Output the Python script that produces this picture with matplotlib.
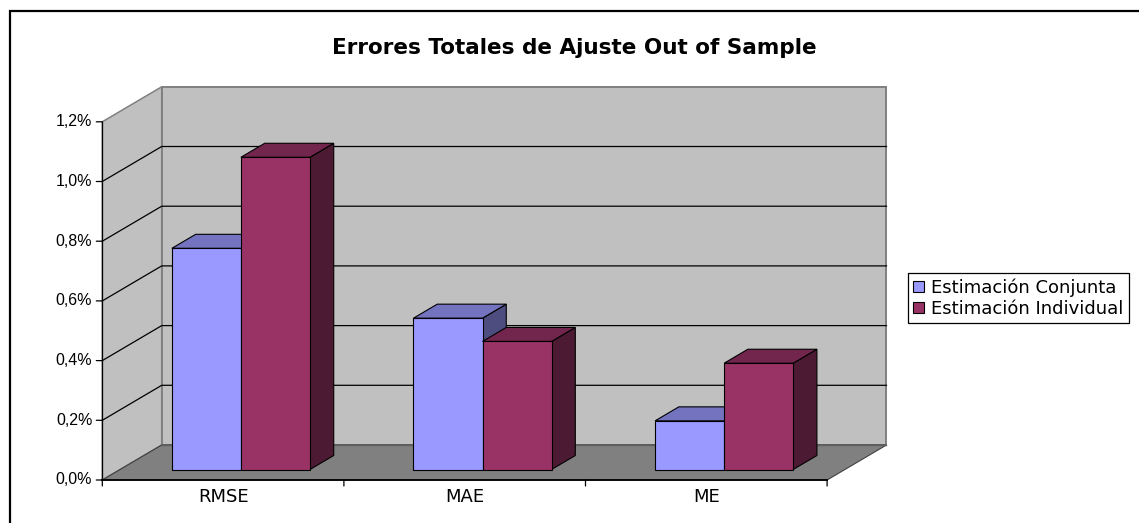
import matplotlib
matplotlib.use("Agg")
import matplotlib.pyplot as plt
from matplotlib.patches import Polygon, Patch, Rectangle

# ---- data -------------------------------------------------------------
categories = ["RMSE", "MAE", "ME"]
series_names = ["Estimación Conjunta", "Estimación Individual"]
conjunta = [0.741, 0.507, 0.163]      # %
individual = [1.046, 0.429, 0.356]    # %
y_ticks = [0.0, 0.2, 0.4, 0.6, 0.8, 1.0, 1.2]
y_tick_labels = ["0,0%", "0,2%", "0,4%", "0,6%", "0,8%", "1,0%", "1,2%"]
title = "Errores Totales de Ajuste Out of Sample"

# ---- styling ----------------------------------------------------------
plt.rcParams["font.family"] = ["Liberation Sans", "DejaVu Sans"]
WIDE_FONT = ["DejaVu Sans"]
face_colors = ["#9999FF", "#993366"]
top_colors = ["#7373BF", "#73264D"]
side_colors = ["#4D4D80", "#4D1A33"]
WALL = "#C0C0C0"
FLOOR = "#808080"
EDGE = "#808080"

W, H = 1139, 523
fig = plt.figure(figsize=(W / 100, H / 100), dpi=100)
ax = fig.add_axes([0, 0, 1, 1])

# plot-area geometry (pixels): origin of the front plane and unit sizes
X0_PX, CAT_PX = 102.3, 241.6
Y0_PX, UNIT_PX = 480.0, 298.5
ax.set_xlim(-X0_PX / CAT_PX, (W - X0_PX) / CAT_PX)
ax.set_ylim((Y0_PX - H) / UNIT_PX, Y0_PX / UNIT_PX)
ax.axis("off")

# oblique depth vector (full depth of the chart box) in data units
DX = 59.4 / CAT_PX
DY = 35.0 / UNIT_PX
n_cat = len(categories)
y_max = y_ticks[-1]


def proj(x, y, z):
    return (x + z * DX, y + z * DY)


def face(points, color, edge="black", lw=0.8, z=1):
    ax.add_patch(Polygon([proj(*p) for p in points], closed=True,
                         facecolor=color, edgecolor=edge, linewidth=lw,
                         joinstyle="miter", zorder=z))


# walls and floor
face([(0, 0, 0), (0, y_max, 0), (0, y_max, 1), (0, 0, 1)], WALL, EDGE, 1.1)
face([(0, 0, 1), (n_cat, 0, 1), (n_cat, y_max, 1), (0, y_max, 1)], WALL, EDGE, 1.4)
face([(0, 0, 0), (n_cat, 0, 0), (n_cat, 0, 1), (0, 0, 1)], FLOOR, "#404040", 0.8)

# gridlines on the back and side walls
for v in y_ticks[1:-1]:
    xs, ys = zip(proj(0, v, 0), proj(0, v, 1), proj(n_cat, v, 1))
    ax.plot(xs, ys, color="black", lw=0.9, zorder=2)
xs, ys = zip(proj(0, 0, 1), proj(n_cat, 0, 1))
ax.plot(xs, ys, color="#606060", lw=1.0, zorder=2)

# axes lines and tick marks
ax.plot([0, 0], [0, y_max], color="black", lw=0.9, zorder=3)
ax.plot([0, n_cat], [0, 0], color="black", lw=1.3, zorder=3)
for v, lab in zip(y_ticks, y_tick_labels):
    ax.annotate("", xy=(0, v), xytext=(-6, 0), textcoords="offset pixels",
                arrowprops=dict(arrowstyle="-", color="black", lw=0.9,
                                shrinkA=0, shrinkB=0))
    ax.annotate(lab, xy=(0, v), xytext=(-10, 0), textcoords="offset pixels",
                ha="right", va="center", fontsize=11.5, color="black")
for i in range(n_cat + 1):
    ax.annotate("", xy=(i, 0), xytext=(0, -6), textcoords="offset pixels",
                arrowprops=dict(arrowstyle="-", color="black", lw=0.9,
                                shrinkA=0, shrinkB=0))
for i, cat in enumerate(categories):
    ax.annotate(cat, xy=(i + 0.5, 0), xytext=(0, -17), textcoords="offset pixels",
                ha="center", va="center", fontsize=13, color="black",
                family=WIDE_FONT)

# 3-D columns: gap width 150 %, gap depth 150 %
bar_w = 1.0 / (2 + 1.5)
z0, z1 = 0.3, 0.7
for i in range(n_cat):
    for j, vals in enumerate([conjunta, individual]):
        h = vals[i]
        x0 = i + 0.75 * bar_w + j * bar_w
        x1 = x0 + bar_w
        face([(x1, 0, z0), (x1, 0, z1), (x1, h, z1), (x1, h, z0)], side_colors[j], z=4)
        face([(x0, h, z0), (x1, h, z0), (x1, h, z1), (x0, h, z1)], top_colors[j], z=4)
        face([(x0, 0, z0), (x1, 0, z0), (x1, h, z0), (x0, h, z0)], face_colors[j], z=4)

# title
fig.text(574 / W, 1 - 48 / H, title, ha="center", va="center",
         fontsize=15.5, fontweight="bold", family=WIDE_FONT)

# legend
handles = [Patch(facecolor=c, edgecolor="black", linewidth=0.8) for c in face_colors]
leg = fig.legend(handles, series_names, loc="upper left",
                 bbox_to_anchor=(908 / W, 1 - 273 / H), borderaxespad=0,
                 prop={"family": WIDE_FONT, "size": 13},
                 frameon=True, fancybox=False, edgecolor="black",
                 framealpha=1, handlelength=0.6, handleheight=0.6,
                 handletextpad=0.4, borderpad=0.3, labelspacing=0.15)
leg.get_frame().set_linewidth(0.9)

# chart border
fig.add_artist(Rectangle((10 / W, -0.1), 1.2, 1.1 - 11 / H,
                         transform=fig.transFigure, fill=False,
                         edgecolor="black", linewidth=1.6))

fig.savefig("out.png", dpi=100)
